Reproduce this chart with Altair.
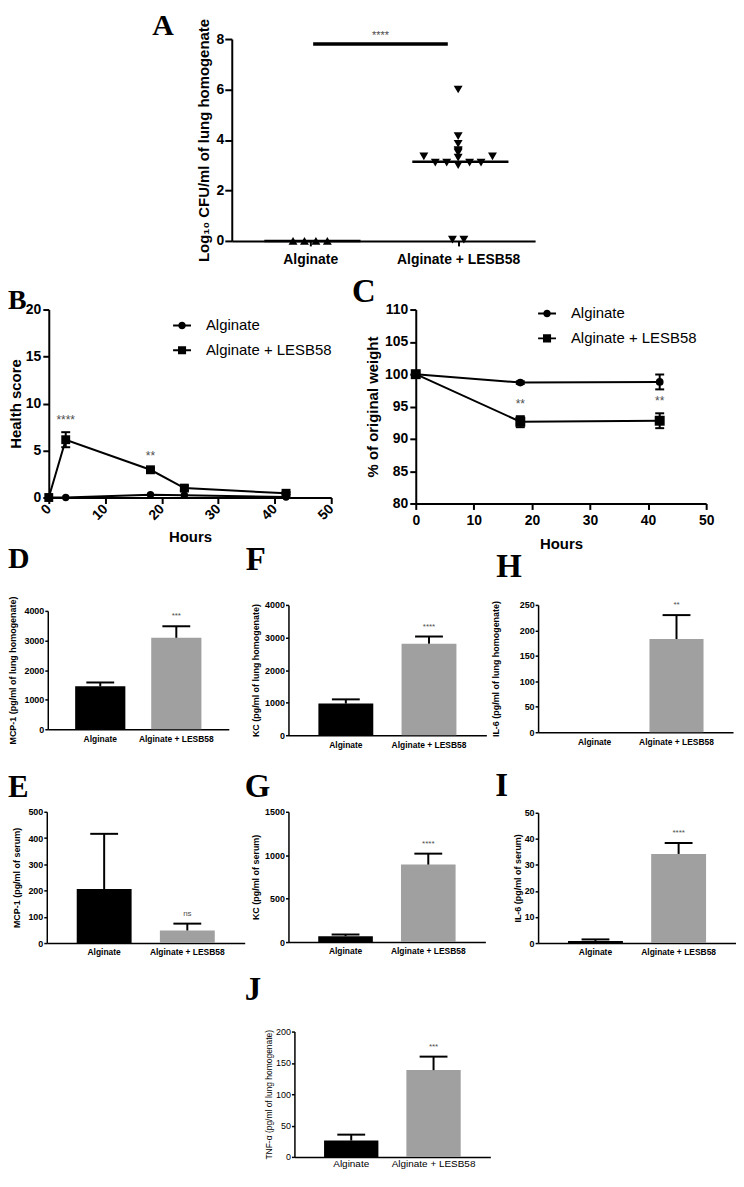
import altair as alt
import pandas as pd

# ---------------- data ----------------
GROUPS = ["Alginate", "Alginate + LESB58"]

# Panel A: log10 CFU/ml of lung homogenate, one value per mouse
cfu_alginate = [0.0, 0.0, 0.0, 0.0]
cfu_lesb58 = [6.0, 4.15, 3.85, 3.6, 3.55, 3.5, 3.35, 3.35, 3.3,
              3.1, 3.1, 3.1, 3.1, 3.0, 0.05, 0.05]
cfu_sig = "****"

# Panel B: health score (mean, SEM)
hours_b = [0, 3, 18, 24, 42]
health_alginate = [0.0, 0.0, 0.3, 0.25, 0.05]
health_alginate_sem = [0.0, 0.0, 0.0, 0.0, 0.0]
health_lesb58 = [0.0, 6.15, 2.95, 1.0, 0.45]
health_lesb58_sem = [0.0, 0.8, 0.15, 0.25, 0.12]
health_sig = ["", "****", "**", "", ""]

# Panel C: % of original weight (mean, SEM)
hours_c = [0, 18, 42]
weight_alginate = [100.0, 98.7, 98.8]
weight_alginate_sem = [0.0, 0.2, 1.15]
weight_lesb58 = [100.0, 92.65, 92.8]
weight_lesb58_sem = [0.0, 0.85, 1.15]
weight_sig = ["", "**", "**"]

# Panels D-J: cytokines (mean, SEM) for [Alginate, Alginate + LESB58]
mcp1_lung, mcp1_lung_sem, mcp1_lung_sig = [1450, 3090], [130, 390], "***"
kc_lung, kc_lung_sem, kc_lung_sig = [970, 2810], [130, 220], "****"
il6_lung, il6_lung_sem, il6_lung_sig = [0, 183], [0, 47], "**"
mcp1_serum, mcp1_serum_sem, mcp1_serum_sig = [206, 48], [210, 26], "ns"
kc_serum, kc_serum_sem, kc_serum_sig = [68, 892], [19, 126], "****"
il6_serum, il6_serum_sem, il6_serum_sig = [0.8, 34.2], [0.6, 4.2], "****"
tnf_lung, tnf_lung_sem, tnf_lung_sig = [26, 138.5], [9.5, 21.5], "***"

# ---------------- layout / style ----------------
W, H = 732, 1164
M = 8
SANS = "Liberation Sans"
SERIF = "Liberation Serif"
STAR = "#4d4d4d"


def y_axis(box, values, title, title_cx, lsize, tsize, weight, dw, tick, pad):
    left, right, top, bottom = box
    return alt.Axis(orient="left", offset=-(left - M), values=values, format="d",
                    title=title, titleX=-(left - title_cx), titleY=(top + bottom) / 2 - M,
                    titleAngle=270, titleAlign="center", titleBaseline="middle",
                    titleFont=SANS, titleFontSize=tsize, titleFontWeight=weight, titleColor="black",
                    labelFont=SANS, labelFontSize=lsize, labelFontWeight=weight, labelColor="black",
                    labelPadding=pad, labelFlush=False, labelOverlap=False,
                    domainColor="black", domainWidth=dw, tickColor="black", tickWidth=dw,
                    tickSize=tick, grid=False)


def letter(ch, left, ypos, size=33, baseline="alphabetic"):
    return alt.Chart(pd.DataFrame({"t": [ch]})).mark_text(
        font=SERIF, fontSize=size, fontWeight="bold", align="left", baseline=baseline,
        color="black").encode(x=alt.value(left - M), y=alt.value(ypos - M), text="t:N")


# ---------------- Panel A ----------------
def swarm(values, ypx, step, dy=7):
    order = sorted(range(len(values)), key=lambda i: values[i])
    placed, offs = [], [0] * len(values)
    cands = [0] + [s * k for k in range(1, 30) for s in (-1, 1)]
    for i in order:
        y = values[i] * ypx
        for c in cands:
            if all(abs(c - pc) >= 1 or abs(y - py) >= dy for pc, py in placed):
                break
        placed.append((c, y))
        offs[i] = c
    for v in set(values):
        idx = [i for i in range(len(values)) if values[i] == v]
        mean = sum(offs[i] for i in idx) / len(idx)
        for i in idx:
            offs[i] -= mean
    return [o * step for o in offs]


A_BOX = (233, 538, 36, 239)
a_xdom = [-0.53, 1.52]
a_ypx = (A_BOX[3] - A_BOX[2]) / 8.0
a_step = 11.5 / ((A_BOX[1] - A_BOX[0]) / (a_xdom[1] - a_xdom[0]))
rows = []
for gi, (g, vals) in enumerate(zip(GROUPS, [cfu_alginate, cfu_lesb58])):
    for v, o in zip(vals, swarm(vals, a_ypx, a_step)):
        rows.append({"group": g, "idx": gi, "value": v, "xpos": gi + o})
df_a = pd.DataFrame(rows)

a_xscale = alt.Scale(domain=a_xdom, range=[A_BOX[0] - M, A_BOX[1] - M], nice=False, zero=False)
a_xaxis = alt.Axis(orient="bottom", offset=(A_BOX[3] - M) - H, values=[0, 1], title=None,
                   labelExpr=f"datum.value == 0 ? '{GROUPS[0]}' : '{GROUPS[1]}'",
                   labelFont=SANS, labelFontSize=14, labelFontWeight="bold", labelColor="black",
                   labelPadding=7, labelFlush=False, labelOverlap=False, labelAngle=0,
                   domainColor="black", domainWidth=2, tickColor="black", tickWidth=2, tickSize=5,
                   grid=False)
a_yscale = alt.Scale(domain=[0, 8], range=[A_BOX[3] - M, A_BOX[2] - M], nice=False, zero=True)
a_yaxis = y_axis(A_BOX, [0, 2, 4, 6, 8], "Log\u2081\u2080 CFU/ml of lung homogenate", 205,
                 14, 15, "bold", 2, 7, 1)

a_points = alt.Chart(df_a).mark_point(filled=True, size=80, opacity=1, color="black").encode(
    x=alt.X("xpos:Q", scale=a_xscale, axis=a_xaxis),
    y=alt.Y("value:Q", scale=a_yscale, axis=a_yaxis),
    shape=alt.Shape("group:N", scale=alt.Scale(domain=GROUPS, range=["triangle-up", "triangle-down"]),
                    legend=None))
a_mean = alt.Chart(df_a).transform_aggregate(
    mean="mean(value)", groupby=["group", "idx"]
).transform_calculate(x1="datum.idx - 0.31", x2="datum.idx + 0.34").mark_rule(
    color="black", strokeWidth=2.5).encode(
    x=alt.X("x1:Q", scale=a_xscale, axis=a_xaxis), x2="x2:Q",
    y=alt.Y("mean:Q", scale=a_yscale, axis=a_yaxis))
a_br_df = pd.DataFrame({"x1": [0.02], "x2": [0.93], "y": [7.8], "sig": [cfu_sig]})
a_bracket = alt.Chart(a_br_df).mark_rule(color="black", strokeWidth=3.5).encode(
    x=alt.X("x1:Q", scale=a_xscale, axis=a_xaxis), x2="x2:Q",
    y=alt.Y("y:Q", scale=a_yscale, axis=a_yaxis))
a_star = alt.Chart(a_br_df).transform_calculate(xm="(datum.x1 + datum.x2) / 2").mark_text(
    font=SANS, fontSize=11, color=STAR, baseline="bottom", dy=-3).encode(
    x=alt.X("xm:Q", scale=a_xscale, axis=a_xaxis),
    y=alt.Y("y:Q", scale=a_yscale, axis=a_yaxis), text="sig:N")
panel_a = alt.layer(a_mean, a_bracket, a_star, a_points)

# ---------------- Panels B and C ----------------
# legend symbols: a short line with the marker on it (filled shapes only)
CIRCLE_PATH = ("M-1,-0.11H-0.38V0.11H-1Z M0.38,-0.11H1V0.11H0.38Z "
               "M-0.42,0A0.42,0.42,0,1,1,0.42,0A0.42,0.42,0,1,1,-0.42,0Z")
SQUARE_PATH = ("M-1,-0.11H-0.42V0.11H-1Z M0.42,-0.11H1V0.11H0.42Z "
               "M-0.45,-0.45H0.45V0.45H-0.45Z")


def line_panel(hours, a_vals, a_sem, l_vals, l_sem, sigs, box, ydom, ystep, ytitle, title_cx,
               rotate, hours_dy, legend_xy, circ_size, sq_size):
    left, right, top, bottom = box
    rows = []
    for g, vals, sems, sg in [(GROUPS[0], a_vals, a_sem, [""] * len(hours)),
                              (GROUPS[1], l_vals, l_sem, sigs)]:
        for h, v, s, t in zip(hours, vals, sems, sg):
            rows.append({"hour": h, "group": g, "value": v, "sem": s,
                         "lo": v - s, "hi": v + s, "sig": t})
    df = pd.DataFrame(rows)
    xsc = alt.Scale(domain=[0, 50], range=[left - M, right - M], nice=False, zero=False)
    xax = alt.Axis(orient="bottom", offset=(bottom - M) - H, values=[0, 10, 20, 30, 40, 50], format="d",
                   title="Hours", titleX=(left + right) / 2 - M, titleY=hours_dy,
                   titleAlign="center", titleBaseline="middle", titleFont=SANS, titleFontSize=15,
                   titleFontWeight="bold", titleColor="black",
                   labelFont=SANS, labelFontSize=14, labelFontWeight="bold", labelColor="black",
                   labelAngle=315 if rotate else 0,
                   labelAlign="right" if rotate else "center",
                   labelBaseline="middle" if rotate else "top",
                   labelPadding=3 if rotate else 4, labelFlush=False, labelOverlap=False,
                   domainColor="black", domainWidth=2, tickColor="black", tickWidth=2, tickSize=6,
                   grid=False)
    ysc = alt.Scale(domain=ydom, range=[bottom - M, top - M], nice=False, zero=False)
    yax = y_axis(box, list(range(ydom[0], ydom[1] + 1, ystep)), ytitle, title_cx, 14, 15, "bold", 2, 6, 2)
    X = alt.X("hour:Q", scale=xsc, axis=xax)
    base = alt.Chart(df)
    line = base.mark_line(color="black", strokeWidth=2).encode(
        x=X, y=alt.Y("value:Q", scale=ysc, axis=yax), detail="group:N")
    err = base.transform_filter("datum.sem > 0").mark_rule(color="black", strokeWidth=2).encode(
        x=X, y=alt.Y("lo:Q", scale=ysc, axis=yax), y2="hi:Q")
    cap_lo = base.transform_filter("datum.sem > 0").mark_tick(
        orient="horizontal", size=9, thickness=2, color="black", opacity=1).encode(
        x=X, y=alt.Y("lo:Q", scale=ysc, axis=yax))
    cap_hi = base.transform_filter("datum.sem > 0").mark_tick(
        orient="horizontal", size=9, thickness=2, color="black", opacity=1).encode(
        x=X, y=alt.Y("hi:Q", scale=ysc, axis=yax))
    pts_a = base.transform_filter(alt.datum.group == GROUPS[0]).mark_point(
        shape="circle", filled=True, size=circ_size, opacity=1, color="black").encode(
        x=X, y=alt.Y("value:Q", scale=ysc, axis=yax))
    pts_l = base.transform_filter(alt.datum.group == GROUPS[1]).mark_point(
        shape="square", filled=True, size=sq_size, opacity=1, color="black").encode(
        x=X, y=alt.Y("value:Q", scale=ysc, axis=yax))
    stars = base.transform_filter("datum.sig != ''").mark_text(
        font=SANS, fontSize=12, color=STAR, baseline="bottom", dy=-5).encode(
        x=X, y=alt.Y("hi:Q", scale=ysc, axis=yax), text="sig:N")
    leg = base.transform_filter("false").mark_point(
        filled=True, color="black", opacity=1).encode(
        shape=alt.Shape("group:N", scale=alt.Scale(domain=GROUPS, range=[CIRCLE_PATH, SQUARE_PATH]),
                        legend=alt.Legend(orient="none", legendX=legend_xy[0] - M, legendY=legend_xy[1] - M,
                                          title=None, labelFont=SANS, labelFontSize=15, labelColor="black",
                                          symbolSize=324, symbolFillColor="black", symbolOpacity=1,
                                          rowPadding=7, labelOffset=14, padding=0, offset=0)))
    return alt.layer(line, err, cap_lo, cap_hi, pts_a, pts_l, stars, leg)


panel_b = line_panel(hours_b, health_alginate, health_alginate_sem, health_lesb58, health_lesb58_sem,
                     health_sig, (49, 333, 308, 497), [0, 20], 5, "Health score", 16,
                     True, 39, (173, 314), 55, 80)
panel_c = line_panel(hours_c, weight_alginate, weight_alginate_sem, weight_lesb58, weight_lesb58_sem,
                     weight_sig, (418, 710, 308, 503), [80, 110], 5, "% of original weight", 375,
                     False, 40, (540, 302), 60, 100)


# ---------------- Bar panels D-J ----------------
def bar_panel(means, sems, sig, box, ymax, ystep, ytitle, title_cx, weight="bold", xsize=8.5, xpad=5,
              tsize=9):
    left, right, top, bottom = box
    df = pd.DataFrame({"group": GROUPS, "mean": means,
                       "top": [m + s for m, s in zip(means, sems)], "sig": ["", sig]})
    xsc = alt.Scale(domain=GROUPS, range=[left - M, right - M], paddingInner=0.34, paddingOuter=0.36)
    xax = alt.Axis(orient="bottom", offset=(bottom - M) - H, title=None, ticks=False, tickSize=0,
                   labelAngle=0, labelPadding=xpad, labelFont=SANS, labelFontSize=xsize,
                   labelFontWeight=weight, labelColor="black", labelOverlap=False,
                   domainColor="black", domainWidth=1.5, grid=False)
    ysc = alt.Scale(domain=[0, ymax], range=[bottom - M, top - M], nice=False, zero=True)
    yax = y_axis(box, list(range(0, ymax + 1, ystep)), ytitle, title_cx, 9, tsize, weight, 1.5, 3, 1)
    X = alt.X("group:N", scale=xsc, axis=xax, sort=GROUPS)
    base = alt.Chart(df)
    bars = base.mark_bar().encode(
        x=X, y=alt.Y("mean:Q", scale=ysc, axis=yax),
        color=alt.Color("group:N", scale=alt.Scale(domain=GROUPS, range=["#000000", "#a0a0a0"]),
                        legend=None))
    err = base.transform_filter("datum.top > datum.mean").mark_rule(color="black", strokeWidth=2).encode(
        x=X, y=alt.Y("mean:Q", scale=ysc, axis=yax), y2="top:Q")
    cap = base.transform_filter("datum.top > datum.mean").mark_tick(
        orient="horizontal", size=28, thickness=2, color="black", opacity=1).encode(
        x=X, y=alt.Y("top:Q", scale=ysc, axis=yax))
    stars = base.mark_text(font=SANS, fontSize=8, color=STAR, baseline="bottom", dy=-6).encode(
        x=X, y=alt.Y("top:Q", scale=ysc, axis=yax), text="sig:N")
    return alt.layer(bars, err, cap, stars)


panel_d = bar_panel(mcp1_lung, mcp1_lung_sem, mcp1_lung_sig, (48, 230, 611, 730), 4000, 1000,
                    "MCP-1 (pg/ml of lung homogenate)", 13)
panel_f = bar_panel(kc_lung, kc_lung_sem, kc_lung_sig, (290, 489, 605, 736), 4000, 1000,
                    "KC (pg/ml of lung homogenate)", 257)
panel_h = bar_panel(il6_lung, il6_lung_sem, il6_lung_sig, (541, 737, 605, 733), 250, 50,
                    "IL-6 (pg/ml of lung homogenate)", 498)
panel_e = bar_panel(mcp1_serum, mcp1_serum_sem, mcp1_serum_sig, (47, 246, 813, 945), 500, 100,
                    "MCP-1 (pg/ml of serum)", 17)
panel_g = bar_panel(kc_serum, kc_serum_sem, kc_serum_sig, (290, 488, 813, 944), 1500, 500,
                    "KC (pg/ml of serum)", 257)
panel_i = bar_panel(il6_serum, il6_serum_sem, il6_serum_sig, (541, 740, 814, 945), 50, 10,
                    "IL-6 (pg/ml of serum)", 520)
panel_j = bar_panel(tnf_lung, tnf_lung_sem, tnf_lung_sig, (296, 493, 1034, 1160), 200, 50,
                    "TNF-\u03b1 (pg/ml of lung homogenate)", 270, weight="normal", xsize=10, xpad=2,
                    tsize=8.5)

letters = [letter("A", 153, 8, 30, baseline="top"), letter("B", 8, 307, 28), letter("C", 354, 300),
           letter("D", 8, 568, 30), letter("F", 247, 570), letter("H", 499, 577),
           letter("E", 8, 798, 31), letter("G", 246, 798), letter("I", 498, 797),
           letter("J", 246, 1002)]

chart = alt.layer(
    panel_a, panel_b, panel_c, panel_d, panel_f, panel_h, panel_e, panel_g, panel_i, panel_j, *letters
).properties(
    width=W, height=H, autosize=alt.AutoSizeParams(type="none"), padding=0, background="white"
).resolve_scale(
    x="independent", y="independent", shape="independent", color="independent"
).resolve_axis(
    x="independent", y="independent"
).resolve_legend(
    shape="independent"
).configure_view(stroke=None).configure_axis(grid=False)

chart.save("out.html", embed_options={"renderer": "svg", "actions": False})
